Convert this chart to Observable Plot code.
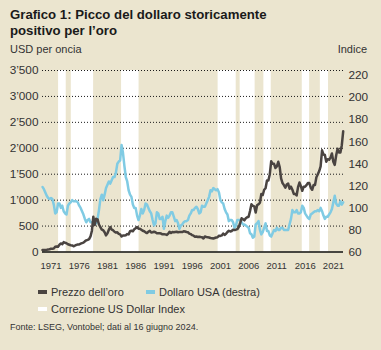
<!DOCTYPE html>
<html><head><meta charset="utf-8">
<script src="https://cdn.jsdelivr.net/npm/d3@7"></script>
<script src="https://cdn.jsdelivr.net/npm/@observablehq/plot@0.6"></script>
<style>
html,body{margin:0;padding:0;background:#ebe5cf;}
body{width:381px;height:350px;position:relative;overflow:hidden;font-family:"Liberation Sans",Arial,sans-serif;color:#333;}
#title{position:absolute;left:10px;top:7px;font-weight:bold;font-size:13.2px;line-height:15.5px;color:#1a1a1a;white-space:nowrap;}
.unit{position:absolute;top:43px;font-size:11px;line-height:13px;color:#333;}
#chart{position:absolute;left:0;top:60px;}
.leg{position:absolute;font-size:11px;line-height:14px;color:#333;white-space:nowrap;}
.sw{position:absolute;width:9px;height:4px;}
#foot{position:absolute;left:10px;top:322px;font-size:9px;line-height:11px;color:#333;white-space:nowrap;}
</style>
</head><body>
<div id="title">Grafico 1: Picco del dollaro storicamente<br>positivo per l’oro</div>
<div class="unit" style="left:10px">USD per oncia</div>
<div class="unit" style="right:14px">Indice</div>
<div id="chart"></div>
<div id="legend"></div>
<div id="foot">Fonte: LSEG, Vontobel; dati al 16 giugno 2024.</div>
<script>
// Quarterly series starting 1971 Q1
const startYear = 1971;
const goldPrice = [
  38, 39, 41, 43,   46, 52, 65, 64,   66, 100, 105, 100,   140, 165, 150, 190,
  178, 168, 150, 140,   130, 127, 110, 125,   138, 145, 145, 160,   172, 180, 205, 225,
  235, 250, 300, 410,   680, 520, 640, 630,   530, 480, 430, 420,   380, 320, 360, 430,
  480, 430, 420, 390,   375, 380, 350, 340,   300, 320, 320, 325,   345, 340, 400, 410,
  400, 440, 460, 480,   450, 450, 430, 410,   400, 380, 365, 390,   410, 375, 380, 390,
  380, 360, 360, 360,   355, 340, 345, 340,   330, 350, 390, 365,   385, 380, 385, 390,
  380, 385, 385, 385,   400, 395, 385, 380,   355, 345, 325, 315,   295, 300, 290, 295,
  288, 285, 260, 300,   290, 285, 280, 270,   265, 260, 270, 280,   285, 315, 310, 320,
  355, 330, 350, 385,   410, 395, 405, 430,   425, 430, 440, 480,   555, 650, 630, 610,
  650, 670, 680, 790,   920, 890, 880, 760,   900, 920, 950, 1120,  1100, 1200, 1230, 1380,
  1380, 1500, 1750, 1700,  1700, 1620, 1650, 1740,  1640, 1420, 1330, 1290,  1240, 1300, 1320, 1220,
  1260, 1200, 1120, 1120,  1090, 1250, 1340, 1270,  1180, 1260, 1260, 1290,  1330, 1330, 1240, 1200,
  1290, 1290, 1440, 1500,  1560, 1650, 1960, 1880,  1870, 1740, 1790, 1780,  1820, 1900, 1740, 1680,
  1860, 1990, 1920, 1920,  2060, 2330
];
const dollarIndex = [
  119, 117, 114, 111,   109, 108, 109, 108,   103, 95, 96, 104,   104, 100, 102, 97,
  95, 94, 102, 104,   105, 107, 106, 106,   106, 105, 102, 100,   97, 94, 90, 87,
  89, 90, 87, 87,   87, 89, 86, 90,   98, 108, 112, 107,   112, 118, 121, 124,
  122, 125, 128, 128,   132, 140, 142, 143,   157, 150, 138, 128,   124, 116, 112, 110,
  103, 100, 100, 93,   89, 93, 99, 95,   98, 104, 103, 100,   97, 95, 89, 84,
  86, 96, 95, 90,   90, 92, 81, 88,   93, 91, 93, 96,   96, 92, 88, 89,
  86, 81, 84, 85,   87, 88, 88, 89,   93, 95, 98, 98,   100, 101, 99, 95,
  96, 102, 101, 101,   104, 107, 110, 116,   115, 118, 117, 116,   117, 114, 107, 105,
  104, 99, 96, 94,   88, 89, 89, 87,   82, 84, 89, 89,   89, 87, 85, 85,
  84, 83, 82, 77,   76, 73, 74, 85,   86, 88, 80, 76,   78, 82, 86, 79,
  79, 75, 74, 77,   80, 79, 82, 80,   80, 82, 82, 80,   80, 80, 80, 85,
  90, 98, 96, 96,   98, 95, 95, 96,   102, 100, 95, 93,   91, 90, 94, 95,
  96, 97, 97, 98,   97, 100, 97, 93,   90, 92, 92, 94,   96, 99, 105, 111,
  104, 102, 102, 106,   103, 105
];
// Correction periods of the US Dollar Index (white bands)
const bandStart = [1973.85, 1976.1, 1985.0, 2002.1, 2006.0, 2010.2, 2017.0, 2020.2];
const bandEnd   = [1975.2, 1980.05, 1988.1, 2005.3, 2008.65, 2011.5, 2018.3, 2021.65];
const xTicks = [1971, 1976, 1981, 1986, 1991, 1996, 2001, 2006, 2011, 2016, 2021];
const leftTicks = [0, 500, 1000, 1500, 2000, 2500, 3000, 3500];
const rightTicks = [60, 80, 100, 120, 140, 160, 180, 200, 220];
const legendLabels = ["Prezzo dell’oro", "Dollaro USA (destra)", "Correzione US Dollar Index"];

const goldColor = "#4a4441", usdColor = "#80cbe3";
const rightMin = 60, rightMax = 224.6, leftMax = 3500;
const toLeft = v => (v - rightMin) * leftMax / (rightMax - rightMin);
const fmtThousands = d => d >= 1000 ? Math.floor(d / 1000) + "’" + String(d % 1000).padStart(3, "0") : String(d);

const gold = goldPrice.map((v, i) => ({t: startYear + i / 4, v}));
const usd = dollarIndex.map((v, i) => ({t: startYear + i / 4, v: toLeft(v)}));
const bands = bandStart.map((s, i) => ({x1: s, x2: bandEnd[i]}));

const chart = Plot.plot({
  width: 381, height: 215,
  marginTop: 10, marginBottom: 23.5, marginLeft: 42, marginRight: 38,
  style: {background: "transparent", fontFamily: "'Liberation Sans', Arial, sans-serif", color: "#333"},
  x: {domain: [1971, 2024.3], label: null},
  y: {domain: [0, leftMax], label: null},
  marks: [
    Plot.rect(bands, {x1: "x1", x2: "x2", fill: "#ffffff"}),
    Plot.gridY(leftTicks.filter(d => d > 0), {stroke: "#1a1a1a", strokeOpacity: 1, strokeDasharray: "1,2", strokeWidth: 1}),
    Plot.axisY(leftTicks, {anchor: "left", tickSize: 0, tickPadding: 4, tickFormat: fmtThousands, fontSize: 11.8, fill: "#333"}),
    Plot.axisY(rightTicks.map(toLeft), {anchor: "right", tickSize: 0, tickPadding: 5, tickFormat: (d, i) => String(rightTicks[i]), fontSize: 11.8, fill: "#333"}),
    Plot.axisX(xTicks, {anchor: "bottom", tickSize: 0, tickPadding: 10, tickFormat: d => String(d), textAnchor: "start", dx: -2, fontSize: 9.5, fill: "#333"}),
    Plot.line(usd, {x: "t", y: "v", stroke: usdColor, strokeWidth: 2.5, strokeLinejoin: "round"}),
    Plot.line(gold, {x: "t", y: "v", stroke: goldColor, strokeWidth: 2.5, strokeLinejoin: "round"}),
    Plot.ruleY([0], {stroke: "#111", strokeWidth: 1.5})
  ]
});
document.getElementById("chart").appendChild(chart);

// legend
const lg = document.getElementById("legend");
const items = [
  {label: legendLabels[0], color: goldColor, x: 38, top: 285},
  {label: legendLabels[1], color: usdColor, x: 146, top: 285},
  {label: legendLabels[2], color: "#ffffff", x: 38, top: 301.5}
];
for (const it of items) {
  const sw = document.createElement("div");
  sw.className = "sw";
  sw.style.left = it.x + "px";
  sw.style.top = (it.top + 5) + "px";
  sw.style.background = it.color;
  lg.appendChild(sw);
  const t = document.createElement("div");
  t.className = "leg";
  t.style.left = (it.x + 13) + "px";
  t.style.top = it.top + "px";
  t.textContent = it.label;
  lg.appendChild(t);
}
</script>
</body></html>
